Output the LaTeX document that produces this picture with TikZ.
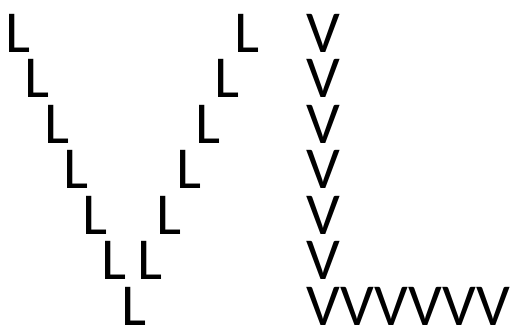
\documentclass[tikz,border=0pt]{standalone}
\usepackage{fontspec}
\setmainfont{Carlito}
\begin{document}
\begin{tikzpicture}[x=1pt,y=-1pt,
  glyph/.style={anchor=base west,inner sep=0pt,outer sep=0pt,text height=38pt,text depth=0pt,font=\fontsize{59.5}{66}\selectfont}]
\useasboundingbox (0,0) rectangle (516,327);
\foreach \i in {0,...,6} {
  \node[glyph] (l\i) at ({5.4+19.3*\i},{52.3+45.5*\i}) {L};
}
\foreach \i in {0,...,5} {
  \node[glyph] (r\i) at ({234.1-19.3*\i},{52.3+45.5*\i}) {L};
  \node[glyph] (v\i) at (306.2,{52.3+45.5*\i}) {V};
}
\node[glyph] (vb) at (306.2,325.3) {VVVVVV};
\end{tikzpicture}
\end{document}
